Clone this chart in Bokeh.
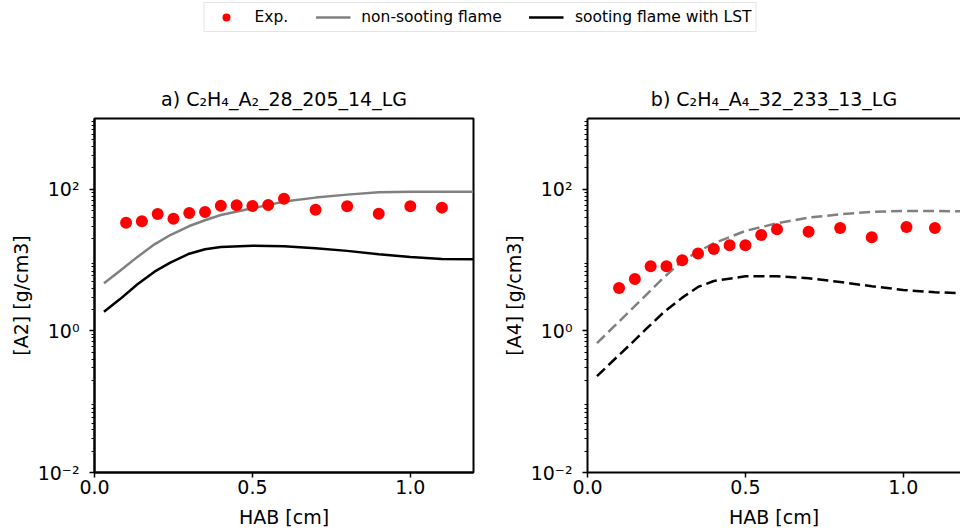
from bokeh.plotting import figure
from bokeh.models import (FixedTicker, NumeralTickFormatter, Legend, LegendItem,
                          LinearAxis, Range1d)
from bokeh.layouts import column, row
from bokeh.embed import file_html
from bokeh.resources import INLINE

FONT = "DejaVu Sans"

# ---- data: panel a) A2 ----
hab_exp_a = [0.1, 0.15, 0.2, 0.25, 0.3, 0.35, 0.4, 0.45, 0.5, 0.55, 0.6, 0.7, 0.8, 0.9, 1.0, 1.1]
a2_exp = [33.8, 35.3, 44.8, 38.5, 46.4, 47.9, 58.7, 59.4, 58.2, 60.1, 73.8, 51.6, 57.5, 45.3, 57.5, 55.1]
hab_model = [0.03, 0.08, 0.136, 0.19, 0.24, 0.3, 0.35, 0.4, 0.5, 0.6, 0.7, 0.8, 0.9, 1.0, 1.1, 1.2]
a2_nonsoot = [4.70, 7.03, 11.1, 16.7, 22.6, 30.3, 36.5, 43.4, 53.9, 67.0, 76.3, 84.1, 90.7, 92.7, 92.7, 92.7]
a2_soot = [1.87, 2.79, 4.55, 6.87, 9.2, 12.3, 14.2, 15.3, 16.0, 15.7, 14.7, 13.5, 12.1, 11.1, 10.4, 10.3]

# ---- data: panel b) A4 ----
hab_exp_b = [0.1, 0.15, 0.2, 0.25, 0.3, 0.35, 0.4, 0.45, 0.5, 0.55, 0.6, 0.7, 0.8, 0.9, 1.01, 1.1]
a4_exp = [4.05, 5.42, 8.18, 8.18, 9.95, 12.4, 14.4, 16.2, 16.2, 22.7, 27.2, 25.2, 28.4, 21.0, 29.4, 28.4]
a4_nonsoot = [0.67, 1.11, 1.95, 3.36, 5.6, 9.7, 13.2, 17.3, 25.8, 33.1, 39.8, 44.4, 47.9, 49.4, 49.4, 48.9]
a4_soot = [0.229, 0.376, 0.647, 1.11, 1.81, 2.95, 4.18, 5.07, 5.9, 5.9, 5.53, 4.91, 4.27, 3.79, 3.51, 3.4]

x_ticks = [0.0, 0.5, 1.0]
y_ticks = [1e-2, 1.0, 1e2]
y_tick_labels = {1e-2: "10\u207b\u00b2", 1.0: "10\u2070", 1e2: "10\u00b2"}
y_minor = [m * 10.0 ** e for e in range(-2, 3) for m in range(2, 10)]

titles = ["a) C\u2082H\u2084_A\u2082_28_205_14_LG", "b) C\u2082H\u2084_A\u2084_32_233_13_LG"]
ylabels = ["[A2] [g/cm3]", "[A4] [g/cm3]"]
xlabel = "HAB [cm]"
legend_labels = ["Exp.", "non-sooting flame", "sooting flame with LST"]

RED = "#ff0000"
GRAY = "#808080"
BLACK = "#000000"
TXT = "19px"


def style_axis(ax):
    ax.axis_line_width = 2
    ax.axis_line_color = BLACK
    ax.major_tick_line_width = 1.5
    ax.major_tick_out = 5
    ax.major_tick_in = 0
    ax.minor_tick_in = 0
    ax.minor_tick_out = 3
    ax.minor_tick_line_width = 1
    ax.major_label_text_font = FONT
    ax.major_label_text_font_size = TXT
    ax.major_label_text_color = BLACK
    ax.major_label_text_line_height = 1.0
    ax.axis_label_text_font = FONT
    ax.axis_label_text_font_size = TXT
    ax.axis_label_text_font_style = "normal"
    ax.axis_label_text_color = BLACK
    ax.axis_label_text_line_height = 1.0


def panel(idx, width, mb_left, mb_right, x_end, outline):
    p = figure(width=width, height=500, x_range=Range1d(0, x_end),
               y_range=Range1d(1e-2, 1e3), y_axis_type="log",
               output_backend="svg", toolbar_location=None,
               min_border_left=mb_left, min_border_right=mb_right,
               min_border_top=86, min_border_bottom=60)
    p.xgrid.visible = False
    p.ygrid.visible = False
    p.background_fill_color = "white"
    p.border_fill_color = "white"

    xa = p.below[0]
    style_axis(xa)
    xa.ticker = FixedTicker(ticks=x_ticks)
    xa.formatter = NumeralTickFormatter(format="0.0")
    xa.axis_label = xlabel
    xa.major_label_standoff = 2
    xa.axis_label_standoff = 9

    ya = p.left[0]
    style_axis(ya)
    ya.ticker = FixedTicker(ticks=y_ticks, minor_ticks=y_minor)
    ya.major_label_overrides = y_tick_labels
    ya.axis_label = ylabels[idx]
    ya.major_label_standoff = 10
    ya.axis_label_standoff = 3

    if outline:
        p.outline_line_color = BLACK
        p.outline_line_width = 2
    else:
        p.outline_line_color = None
        top = LinearAxis(ticker=FixedTicker(ticks=[]))
        top.axis_line_width = 2
        top.axis_line_color = BLACK
        top.major_tick_out = 0
        top.minor_tick_out = 0
        top.major_label_text_font_size = "0px"
        p.add_layout(top, "above")

    p.title.text = titles[idx]
    p.title.align = "center"
    p.title.text_font = FONT
    p.title.text_font_size = TXT
    p.title.text_font_style = "normal"
    p.title.text_color = BLACK
    p.title.standoff = 17
    return p


p1 = panel(0, 495, 94, 22, 1.2, True)
p2 = panel(1, 465, 92, 0, 1.181, False)

p1.line(hab_model, a2_nonsoot, line_color=GRAY, line_width=2.5)
p1.line(hab_model, a2_soot, line_color=BLACK, line_width=2.5)
p1.scatter(hab_exp_a, a2_exp, size=12, fill_color=RED, line_color=None)

p2.line(hab_model, a4_nonsoot, line_color=GRAY, line_width=2.5, line_dash="11 5")
p2.line(hab_model, a4_soot, line_color=BLACK, line_width=2.5, line_dash="11 5")
p2.scatter(hab_exp_b, a4_exp, size=12, fill_color=RED, line_color=None)

# legend strip (its glyphs reuse the data, which lies outside this strip's ranges)
lf = figure(width=960, height=32, x_range=Range1d(0, 1), y_range=Range1d(-1, 0),
            x_axis_type=None, y_axis_type=None, output_backend="svg",
            toolbar_location=None, min_border=0, outline_line_color=None)
r_exp = lf.scatter(hab_exp_a, a2_exp, size=12, fill_color=RED, line_color=None)
r_non = lf.line(hab_model, a2_nonsoot, line_color=GRAY, line_width=2.5)
r_soot = lf.line(hab_model, a2_soot, line_color=BLACK, line_width=2.5)
legend = Legend(items=[LegendItem(label=legend_labels[0], renderers=[r_exp]),
                       LegendItem(label=legend_labels[1], renderers=[r_non]),
                       LegendItem(label=legend_labels[2], renderers=[r_soot])],
                orientation="horizontal", location="top_center", margin=2,
                padding=4, spacing=27, glyph_width=35, glyph_height=20,
                label_height=20, label_standoff=11,
                label_text_font=FONT, label_text_font_size="15.5px",
                label_text_color=BLACK,
                border_line_color="#cccccc", border_line_width=1.5,
                background_fill_color="white", background_fill_alpha=1)
lf.add_layout(legend, "center")

layout = column(lf, row(p1, p2))
open("out.html", "w").write(file_html(layout, INLINE))
